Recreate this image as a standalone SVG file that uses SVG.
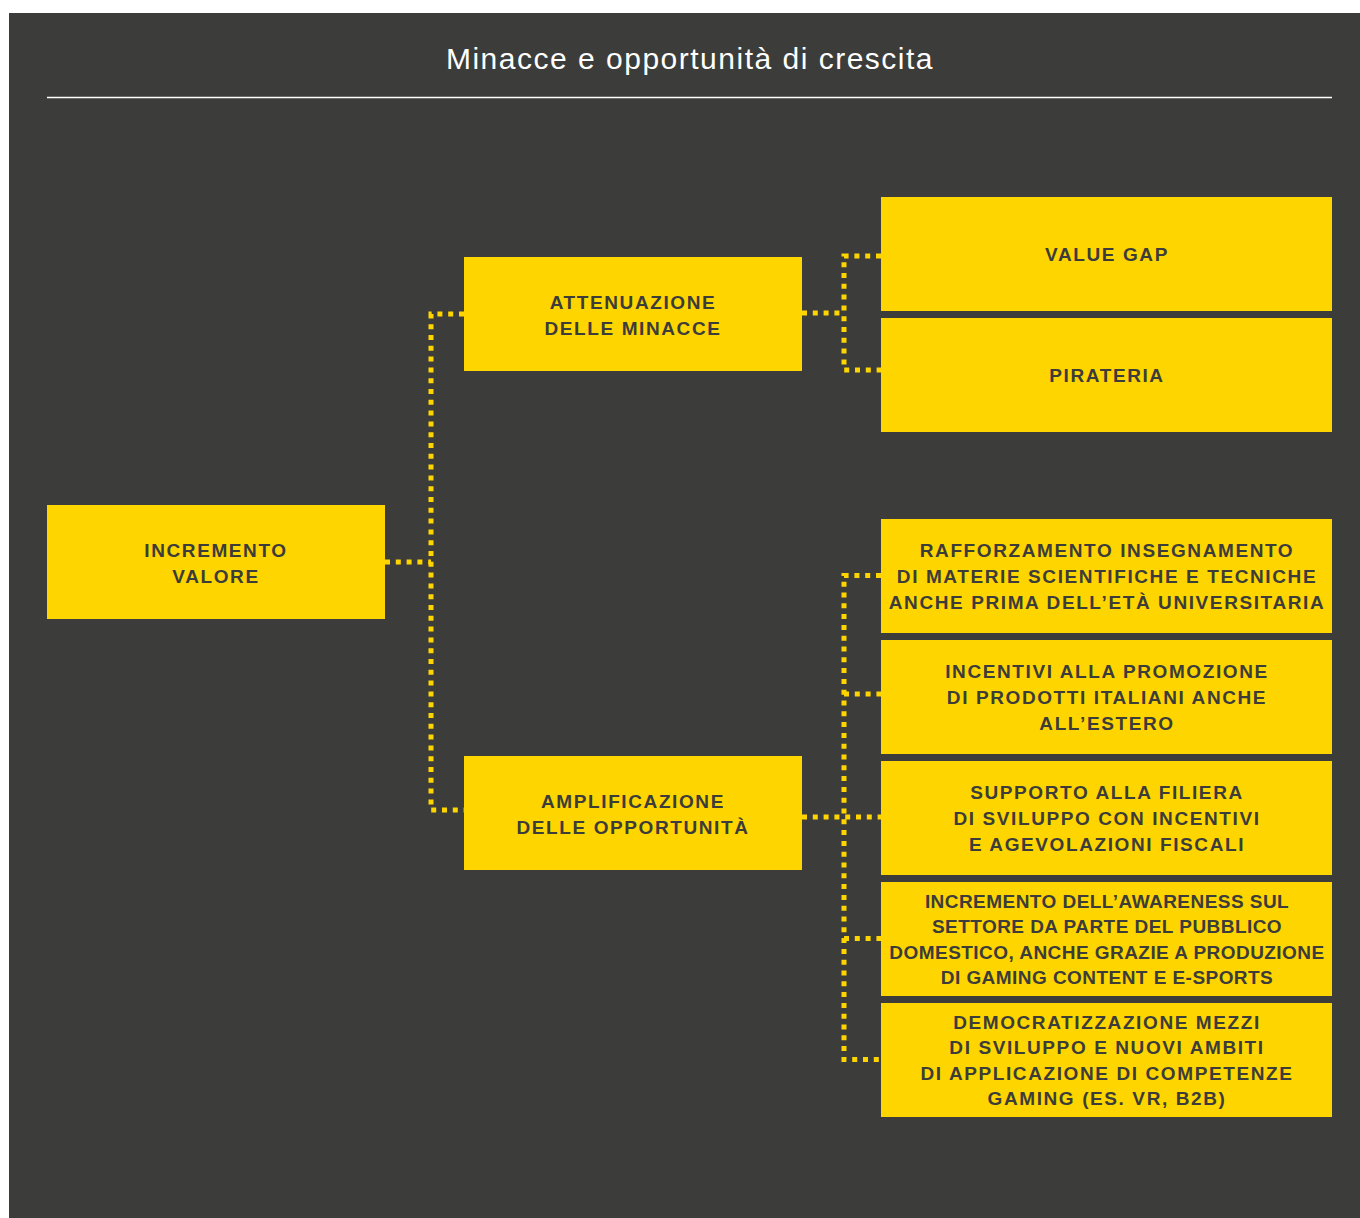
<svg xmlns="http://www.w3.org/2000/svg" width="1360" height="1218" viewBox="0 0 1360 1218">
<style>
.bg{fill:#3c3c3b}
.box{fill:#ffd500}
.t{font-family:"Liberation Sans",Arial,sans-serif;font-weight:bold;font-size:19px;fill:#3c3c3b;text-anchor:middle;letter-spacing:1.6px}
.tn{letter-spacing:0.45px}
.title{font-family:"Liberation Sans",Arial,sans-serif;font-size:30px;fill:#ffffff;text-anchor:middle;letter-spacing:1.5px}
.c{fill:none;stroke:#ffd500;stroke-width:5;stroke-dasharray:5 5.8}
</style>
<rect x="0" y="0" width="1360" height="1218" fill="#ffffff"/>
<rect class="bg" x="9" y="13" width="1351" height="1205"/>
<text class="title" x="690" y="69">Minacce e opportunità di crescita</text>
<line x1="47" y1="97.5" x2="1332" y2="97.5" stroke="#ffffff" stroke-width="1.5"/>
<g id="connectors">
<path class="c" d="M385 562 H431"/>
<path class="c" d="M464 314 H431 V810 H464"/>
<path class="c" d="M802 313 H844"/>
<path class="c" d="M881 256 H844 V370 H881"/>
<path class="c" d="M802 817 H881"/>
<path class="c" d="M881 575.5 H844 V1059.5 H881"/>
<path class="c" d="M844 694 H881"/>
<path class="c" d="M844 938.5 H881"/>
</g>
<g id="n-incremento"><rect class="box" x="47" y="505" width="338" height="114"/><text class="t" x="216" y="557">INCREMENTO</text><text class="t" x="216" y="583">VALORE</text></g>
<g id="n-attenuazione"><rect class="box" x="464" y="257" width="338" height="114"/><text class="t" x="633" y="309">ATTENUAZIONE</text><text class="t" x="633" y="335">DELLE MINACCE</text></g>
<g id="n-amplificazione"><rect class="box" x="464" y="756" width="338" height="114"/><text class="t" x="633" y="808">AMPLIFICAZIONE</text><text class="t" x="633" y="834">DELLE OPPORTUNITÀ</text></g>
<g id="n-valuegap"><rect class="box" x="881" y="197" width="451" height="114"/><text class="t" x="1107" y="261">VALUE GAP</text></g>
<g id="n-pirateria"><rect class="box" x="881" y="318" width="451" height="114"/><text class="t" x="1107" y="382">PIRATERIA</text></g>
<g id="n-rafforzamento"><rect class="box" x="881" y="519" width="451" height="114"/><text class="t" x="1107" y="557">RAFFORZAMENTO INSEGNAMENTO</text><text class="t" x="1107" y="583">DI MATERIE SCIENTIFICHE E TECNICHE</text><text class="t" x="1107" y="609">ANCHE PRIMA DELL’ETÀ UNIVERSITARIA</text></g>
<g id="n-incentivi"><rect class="box" x="881" y="640" width="451" height="114"/><text class="t" x="1107" y="678">INCENTIVI ALLA PROMOZIONE</text><text class="t" x="1107" y="704">DI PRODOTTI ITALIANI ANCHE</text><text class="t" x="1107" y="730">ALL’ESTERO</text></g>
<g id="n-supporto"><rect class="box" x="881" y="761" width="451" height="114"/><text class="t" x="1107" y="799">SUPPORTO ALLA FILIERA</text><text class="t" x="1107" y="825">DI SVILUPPO CON INCENTIVI</text><text class="t" x="1107" y="851">E AGEVOLAZIONI FISCALI</text></g>
<g id="n-awareness"><rect class="box" x="881" y="882" width="451" height="114"/><text class="t tn" x="1107" y="908">INCREMENTO DELL’AWARENESS SUL</text><text class="t tn" x="1107" y="933">SETTORE DA PARTE DEL PUBBLICO</text><text class="t tn" x="1107" y="959">DOMESTICO, ANCHE GRAZIE A PRODUZIONE</text><text class="t tn" x="1107" y="984">DI GAMING CONTENT E E-SPORTS</text></g>
<g id="n-democratizzazione"><rect class="box" x="881" y="1003" width="451" height="114"/><text class="t" x="1107" y="1029">DEMOCRATIZZAZIONE MEZZI</text><text class="t" x="1107" y="1054">DI SVILUPPO E NUOVI AMBITI</text><text class="t" x="1107" y="1080">DI APPLICAZIONE DI COMPETENZE</text><text class="t" x="1107" y="1105">GAMING (ES. VR, B2B)</text></g>
</svg>
